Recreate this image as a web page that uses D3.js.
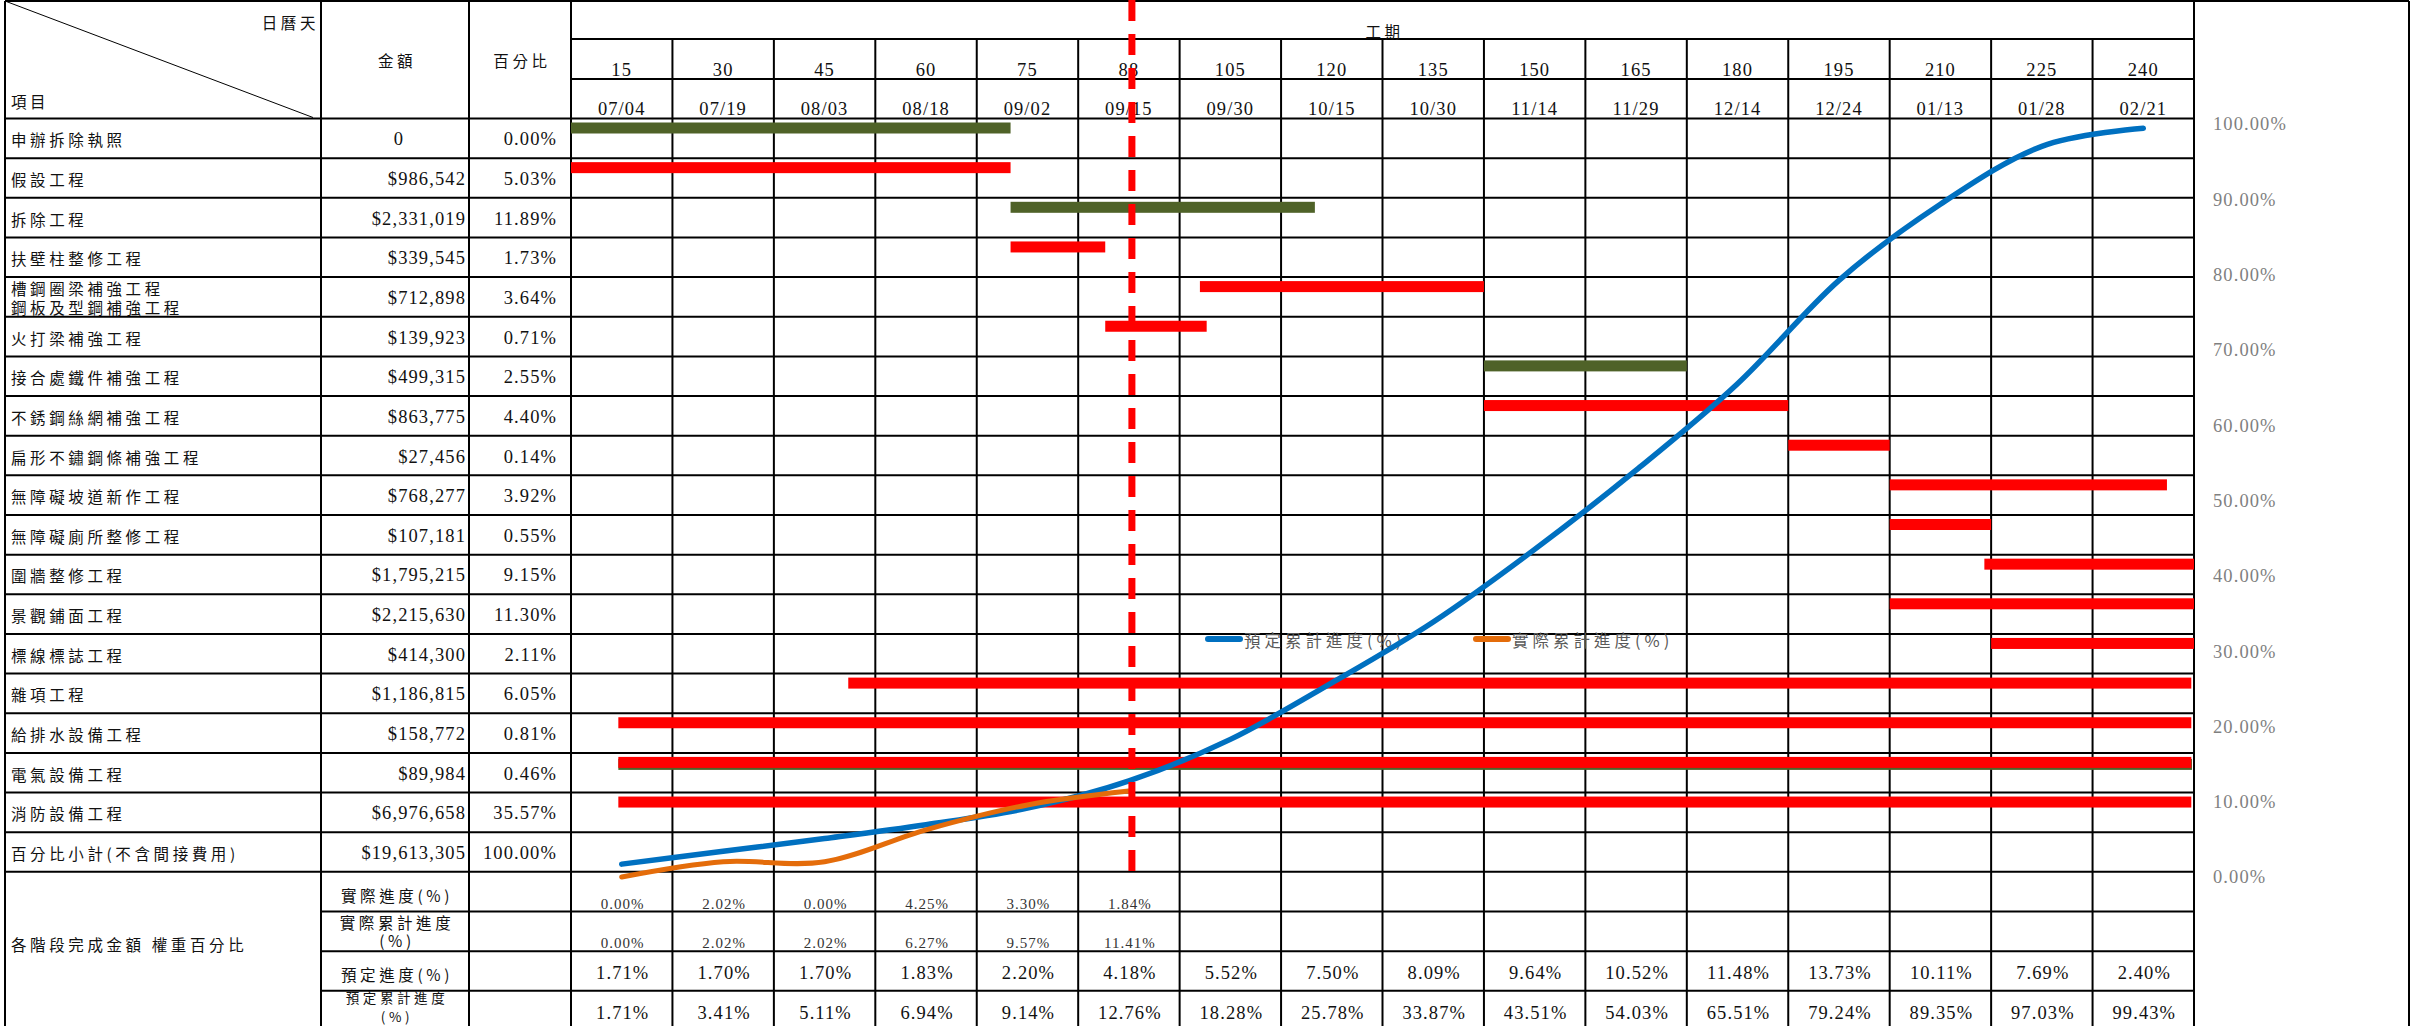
<!DOCTYPE html>
<html>
<head>
<meta charset="utf-8">
<script src="https://cdn.jsdelivr.net/npm/d3@7"></script>
<style>
  body { margin: 0; background: #fff; }
  .cjk { font-family: "Noto Sans CJK TC", sans-serif; font-size: 15.5px; letter-spacing: 3.6px; fill: #111; }
  .num { font-family: "Liberation Serif", serif; font-size: 18.5px; letter-spacing: 1.1px; fill: #111; }
  .small-num { font-family: "Liberation Serif", serif; font-size: 15px; letter-spacing: 1px; fill: #333; }
</style>
</head>
<body>
<div id="chart"></div>
<script>
// DATA -------------------------------------------------------------
let items = [
  "申辦拆除執照",
  "假設工程",
  "拆除工程",
  "扶壁柱整修工程",
  "槽鋼圈梁補強工程|鋼板及型鋼補強工程",
  "火打梁補強工程",
  "接合處鐵件補強工程",
  "不銹鋼絲網補強工程",
  "扁形不鏽鋼條補強工程",
  "無障礙坡道新作工程",
  "無障礙廁所整修工程",
  "圍牆整修工程",
  "景觀鋪面工程",
  "標線標誌工程",
  "雜項工程",
  "給排水設備工程",
  "電氣設備工程",
  "消防設備工程",
];
let amounts = [
  0, 986542, 2331019, 339545, 712898, 139923, 499315, 863775, 27456,
  768277, 107181, 1795215, 2215630, 414300, 1186815, 158772, 89984, 6976658,
];
let percents = [
  0.0, 5.03, 11.89, 1.73, 3.64, 0.71, 2.55, 4.4, 0.14, 3.92, 0.55, 9.15,
  11.3, 2.11, 6.05, 0.81, 0.46, 35.57,
];
let total_label = "百分比小計(不含間接費用)";
let total_amount = 19613305;
let total_percent = 100.0;

let day_labels = [15, 30, 45, 60, 75, 88, 105, 120, 135, 150, 165, 180, 195, 210, 225, 240];
let date_labels = [
  "07/04", "07/19", "08/03", "08/18", "09/02", "09/15", "09/30", "10/15",
  "10/30", "11/14", "11/29", "12/14", "12/24", "01/13", "01/28", "02/21",
];

let progress_labels = ["實際進度(%)", "實際累計進度|(%)", "預定進度(%)", "預定累計進度|(%)"];
let actual_progress = [0.0, 2.02, 0.0, 4.25, 3.3, 1.84];
let actual_cumulative = [0.0, 2.02, 2.02, 6.27, 9.57, 11.41];
let planned_progress = [1.71, 1.7, 1.7, 1.83, 2.2, 4.18, 5.52, 7.5, 8.09, 9.64, 10.52, 11.48, 13.73, 10.11, 7.69, 2.4];
let planned_cumulative = [1.71, 3.41, 5.11, 6.94, 9.14, 12.76, 18.28, 25.78, 33.87, 43.51, 54.03, 65.51, 79.24, 89.35, 97.03, 99.43];
let today_label = 88;

let axis_ticks = [0, 10, 20, 30, 40, 50, 60, 70, 80, 90, 100];

// schedule bars in calendar days (row = item index)
let schedule_rows = [0, 1, 2, 3, 4, 5, 6, 7, 8, 9, 10, 11, 12, 13, 14, 15, 16, 16, 17];
let schedule_start = [0, 0, 65, 65, 93, 79, 135, 135, 180, 195, 195, 209, 195, 210, 41, 7, 7, 7, 7];
let schedule_end = [65, 65, 110, 79, 135, 94, 165, 180, 195, 236, 210, 240, 240, 240, 239.6, 239.6, 239.7, 239.6, 239.6];
let schedule_kind = ["done", "plan", "done", "plan", "plan", "plan", "done", "plan", "plan", "plan", "plan", "plan", "plan", "plan", "plan", "plan", "done", "plan", "plan"];

let legend_labels = ["預定累計進度(%)", "實際累計進度(%)"];

// LAYOUT -----------------------------------------------------------
let width = 2417, height = 1026;
let x_left = 5, x_name = 321, x_amount = 469, x_time = 571, x_end = 2194, x_right = 2409;
let y_top = 1, y_h1 = 39, y_h2 = 79, y_body = 118.5, row_h = 39.65;
let n_rows = items.length + 1 + progress_labels.length;
let y_bottom = y_body + n_rows * row_h;

let COLORS = { plan: "#ff0000", done: "#4f6228", planned_line: "#0070c0", actual_line: "#e46c0a" };

let svg = d3
  .select("#chart")
  .append("svg")
  .attr("width", width)
  .attr("height", height);

// scales
let row_scale = d3.scaleBand().domain(d3.range(n_rows)).range([y_body, y_bottom]);
let col_scale = d3.scaleBand().domain(day_labels).range([x_time, x_end]);
let day_scale = d3.scaleLinear().domain([0, 240]).range([x_time, x_end]);
let pct_scale = d3.scaleLinear().domain([0, 100]).range([877, 124]);
let col_center = (d) => col_scale(d) + col_scale.bandwidth() / 2;
let row_center = (i) => row_scale(i) + row_scale.bandwidth() / 2;

let fmt_money = (v) => (v === 0 ? "0" : d3.format("$,")(v));
let fmt_pct = (v) => d3.format(".2f")(v) + "%";

// GRID ---------------------------------------------------------------
let grid = svg.append("g").attr("stroke", "#000").attr("stroke-width", 2);

let h_lines = [
  { y: y_top, x1: x_left, x2: x_right },
  { y: y_h1, x1: x_time, x2: x_end },
  { y: y_h2, x1: x_time, x2: x_end },
];
d3.range(items.length + 2).forEach((k) => {
  h_lines.push({ y: y_body + k * row_h, x1: x_left, x2: x_end });
});
d3.range(items.length + 2, n_rows + 1).forEach((k) => {
  h_lines.push({ y: y_body + k * row_h, x1: x_name, x2: x_end });
});

grid
  .selectAll(".h-line")
  .data(h_lines)
  .enter()
  .append("line")
  .attr("x1", (d) => d.x1)
  .attr("x2", (d) => d.x2)
  .attr("y1", (d) => d.y)
  .attr("y2", (d) => d.y);

let v_lines = [
  { x: x_left, y1: y_top },
  { x: x_name, y1: y_top },
  { x: x_amount, y1: y_top },
  { x: x_time, y1: y_top },
  { x: x_end, y1: y_top },
  { x: x_right, y1: y_top },
];
day_labels.slice(1).forEach((d) => v_lines.push({ x: col_scale(d), y1: y_h1 }));

grid
  .selectAll(".v-line")
  .data(v_lines)
  .enter()
  .append("line")
  .attr("x1", (d) => d.x)
  .attr("x2", (d) => d.x)
  .attr("y1", (d) => d.y1)
  .attr("y2", y_bottom);

// diagonal in the corner cell
svg
  .append("line")
  .attr("x1", x_left)
  .attr("y1", y_top)
  .attr("x2", x_name - 8)
  .attr("y2", y_body - 1)
  .attr("stroke", "#000")
  .attr("stroke-width", 1);

// HEADER TEXT --------------------------------------------------------
function cjkText(x, y, txt, anchor) {
  return svg
    .append("text")
    .attr("class", "cjk")
    .attr("x", x)
    .attr("y", y)
    .attr("text-anchor", anchor || "start")
    .attr("dominant-baseline", "central")
    .text(txt);
}

cjkText(x_name - 2, 22, "日曆天", "end");
cjkText(11, 101, "項目");
cjkText((x_name + x_amount) / 2 + 2, 60, "金額", "middle");
cjkText((x_amount + x_time) / 2 + 2, 60, "百分比", "middle");
cjkText((x_time + x_end) / 2 + 2, 31, "工期", "middle");

svg
  .selectAll(".day-label")
  .data(day_labels)
  .enter()
  .append("text")
  .attr("class", "num")
  .attr("x", (d) => col_center(d))
  .attr("y", 76)
  .attr("text-anchor", "middle")
  .text((d) => d);

svg
  .selectAll(".date-label")
  .data(date_labels)
  .enter()
  .append("text")
  .attr("class", "num")
  .attr("x", (d, i) => col_center(day_labels[i]))
  .attr("y", 115)
  .attr("text-anchor", "middle")
  .text((d) => d);

// ITEM ROWS ----------------------------------------------------------
items.forEach((name, i) => {
  let parts = name.split("|");
  if (parts.length > 1) {
    cjkText(11, row_scale(i) + 11, parts[0]);
    cjkText(11, row_scale(i) + 30, parts[1]);
  } else {
    cjkText(11, row_center(i) + 1, name);
  }
});

svg
  .selectAll(".amount")
  .data(amounts.concat([total_amount]))
  .enter()
  .append("text")
  .attr("class", "num")
  .attr("x", (d) => (d === 0 ? (x_name + x_amount) / 2 + 4 : x_amount - 3))
  .attr("y", (d, i) => row_center(i) + 7)
  .attr("text-anchor", (d) => (d === 0 ? "middle" : "end"))
  .text((d) => fmt_money(d));

svg
  .selectAll(".percent")
  .data(percents.concat([total_percent]))
  .enter()
  .append("text")
  .attr("class", "num")
  .attr("x", x_time - 14)
  .attr("y", (d, i) => row_center(i) + 7)
  .attr("text-anchor", "end")
  .text((d) => fmt_pct(d));

cjkText(11, row_center(items.length) + 1, total_label);

// PROGRESS ROWS ------------------------------------------------------
let first_progress_row = items.length + 1;
cjkText(11, row_scale(first_progress_row) + 2 * row_h - 7, "各階段完成金額 權重百分比");

progress_labels.forEach((label, j) => {
  let r = first_progress_row + j;
  let parts = label.split("|");
  let cx = (x_name + x_amount) / 2 + 2;
  if (parts.length > 1) {
    // the last row is cut by the page edge: smaller text, kept higher
    let last = j === progress_labels.length - 1;
    let top_line = cjkText(cx, row_center(r) - (last ? 14 : 9), parts[0], "middle");
    let bottom_line = cjkText(cx, row_center(r) + (last ? 5.6 : 9), parts[1], "middle");
    if (last) {
      top_line.style("font-size", "13.5px");
      bottom_line.style("font-size", "13.5px");
    }
  } else {
    cjkText(cx, row_center(r) + 3, label, "middle");
  }
});

let progress_series = [actual_progress, actual_cumulative, planned_progress, planned_cumulative];
progress_series.forEach((series, j) => {
  let r = first_progress_row + j;
  let small = j < 2;
  svg
    .selectAll(".prog-" + j)
    .data(series)
    .enter()
    .append("text")
    .attr("class", small ? "small-num" : "num")
    .attr("x", (d, i) => col_center(day_labels[i]) + 1)
    .attr("y", small ? row_scale(r) + row_h - 3 : row_center(r) + 8)
    .attr("text-anchor", "middle")
    .text((d) => fmt_pct(d));
});

// GANTT BARS ---------------------------------------------------------
let bars = schedule_rows.map((row, i) => ({
  row: row,
  start: schedule_start[i],
  end: schedule_end[i],
  kind: schedule_kind[i],
}));

svg
  .selectAll(".bar")
  .data(bars)
  .enter()
  .append("rect")
  .attr("x", (d) => day_scale(d.start))
  .attr("width", (d) => day_scale(d.end) - day_scale(d.start))
  .attr("y", (d) => row_scale(d.row) + 4 + (d.kind === "done" && d.row === 16 ? 2 : 0))
  .attr("height", 11)
  .attr("fill", (d) => COLORS[d.kind]);

// LEGEND -------------------------------------------------------------
let legend_x = [1208, 1476];
let legend_colors = [COLORS.planned_line, COLORS.actual_line];
legend_labels.forEach((label, i) => {
  svg
    .append("line")
    .attr("x1", legend_x[i])
    .attr("x2", legend_x[i] + 32)
    .attr("y1", 639)
    .attr("y2", 639)
    .attr("stroke", legend_colors[i])
    .attr("stroke-width", 6)
    .attr("stroke-linecap", "round");
  svg
    .append("text")
    .attr("class", "cjk")
    .attr("x", legend_x[i] + 36)
    .attr("y", 640)
    .attr("dominant-baseline", "central")
    .style("fill", "#595959")
    .style("font-size", "16.5px")
    .style("letter-spacing", "4px")
    .text(label);
});

// S-CURVES -----------------------------------------------------------
let line = d3
  .line()
  .x((d, i) => col_center(day_labels[i]))
  .y((d) => pct_scale(d))
  .curve(d3.curveCardinal.tension(0));

svg
  .append("path")
  .attr("d", line(planned_cumulative))
  .attr("fill", "none")
  .attr("stroke", COLORS.planned_line)
  .attr("stroke-width", 5.5)
  .attr("stroke-linecap", "round");

svg
  .append("path")
  .attr("d", line(actual_cumulative))
  .attr("fill", "none")
  .attr("stroke", COLORS.actual_line)
  .attr("stroke-width", 5)
  .attr("stroke-linecap", "round");

// today marker
svg
  .append("line")
  .attr("x1", col_center(today_label) + 3)
  .attr("x2", col_center(today_label) + 3)
  .attr("y1", 0)
  .attr("y2", pct_scale(0))
  .attr("stroke", "#ff0000")
  .attr("stroke-width", 7)
  .attr("stroke-dasharray", "21,13");

// RIGHT AXIS ---------------------------------------------------------
let axis = svg
  .append("g")
  .attr("transform", "translate(2213,0)")
  .call(
    d3
      .axisRight(pct_scale)
      .tickValues(axis_ticks)
      .tickSize(0)
      .tickPadding(0)
      .tickFormat((d) => fmt_pct(d))
  );
axis.select(".domain").remove();
axis
  .selectAll("text")
  .attr("font-family", "Liberation Serif, serif")
  .attr("font-size", 18.5)
  .attr("letter-spacing", 1.1)
  .attr("fill", "#7f7f7f");
</script>
</body>
</html>
